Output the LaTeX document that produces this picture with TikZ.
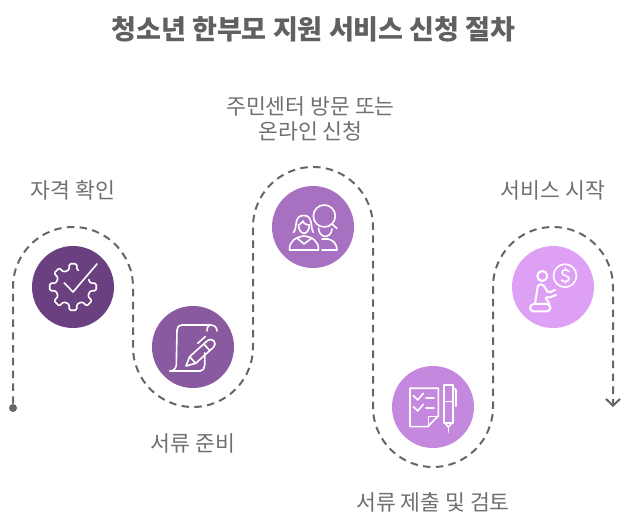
\documentclass[tikz,border=0pt]{standalone}
\usepackage{fontspec}
\setmainfont{Noto Sans CJK KR}
\usepackage{xcolor}
\usetikzlibrary{arrows.meta, positioning}
\definecolor{cInk}{RGB}{102,102,102}
\definecolor{cLabel}{RGB}{112,112,112}
\definecolor{cTitle}{RGB}{96,96,96}
\definecolor{cStepA}{RGB}{107,64,128}
\definecolor{cStepB}{RGB}{138,90,160}
\definecolor{cStepC}{RGB}{168,112,192}
\definecolor{cStepD}{RGB}{196,136,222}
\definecolor{cStepE}{RGB}{221,160,245}
\tikzset{
	stepdisc/.style={circle, minimum size=61.5pt, inner sep=0pt},
	steplabel/.style={font=\fontsize{16.2pt}{18.8pt}\selectfont, text=cLabel, align=center},
	headline/.style={font=\fontsize{20.3pt}{24pt}\selectfont\bfseries, text=cTitle},
	trail/.style={draw=cInk, line width=1.5pt, dash pattern=on 5.6pt off 4pt},
	% white line work inside the discs
	iconline/.style={draw=white, line width=1.2pt, line cap=round, line join=round},
}
\begin{document}
\begin{tikzpicture}[x=0.75pt, y=0.75pt]
	\useasboundingbox (0,0) rectangle (626,528);
	\node[headline] (title) at (313.5,498.5) {청소년 한부모 지원 서비스 신청 절차};
	\node[stepdisc, fill=cStepA] (gear) at (73,241) {};
	\node[stepdisc, fill=cStepB] (scroll) at (193,181) {};
	\node[stepdisc, fill=cStepC] (people) at (313,301) {};
	\node[stepdisc, fill=cStepD] (sheet) at (433,121) {};
	\node[stepdisc, fill=cStepE] (coin) at (553,241) {};
	\node[steplabel] (gearlab) at (73,338) {자격 확인};
	\node[steplabel] (scrolllab) at (193,85) {서류 준비};
	\node[steplabel] (peoplelab) at (310.5,409) {주민센터 방문 또는\\온라인 신청};
	\node[steplabel] (sheetlab) at (433,26) {서류 제출 및 검토};
	\node[steplabel] (coinlab) at (553,338) {서비스 시작};
	\node[circle, fill=cInk, minimum size=6pt, inner sep=0pt] (pstart) at (13,120) {};
	\coordinate (pend) at (613,121);
	% winding route
	\draw[trail, -{Straight Barb[length=5pt, width=10.5pt, line width=1.5pt]}] (pstart) -- (13,241)
		arc[start angle=180, end angle=0, radius=60] -- (133,181)
		arc[start angle=180, end angle=360, radius=60] -- (253,301)
		arc[start angle=180, end angle=0, radius=60] -- (373,121)
		arc[start angle=180, end angle=360, radius=60] -- (493,241)
		arc[start angle=180, end angle=0, radius=60] -- (pend);
	% gear and tick
	\begin{scope}[shift={(gear.center)}]
		\draw[iconline, rounded corners=1pt] (72:17.5)
			\foreach \a in {90,135,180,225,270,315,360} {
				-- (\a-13:17.5) -- (\a-9:23.5) -- (\a+9:23.5) -- (\a+13:17.5)
			} -- (385:17.5);
		\draw[iconline] (-8.7,4) -- (0,-5) -- (24,23);
	\end{scope}
	% paper and brush
	\begin{scope}[shift={(scroll.center)}]
		\draw[iconline] (24,16) .. controls (24,20) and (21,22) .. (17.3,22) -- (-11,22)
			.. controls (-14,22) and (-16,20) .. (-16,17) -- (-16.7,-18)
			.. controls (-17,-22) and (-20,-24) .. (-23.3,-24) -- (7.3,-24)
			.. controls (10,-24) and (11.7,-21) .. (11.7,-18) -- (11.7,-6);
		\draw[iconline] (17.3,22) .. controls (14,21) and (14,18) .. (14,16);
		\begin{scope}[shift={(-7,-19)}, rotate=42]
			\draw[iconline] (0,0) -- (9,4.5) -- (33,4.5) arc[start angle=90, end angle=-90, radius=4.5]
				-- (9,-4.5) -- cycle;
			\draw[iconline] (9,4.5) -- (9,-4.5) (28,4.5) -- (28,-4.5);
			\draw[iconline] (24,9) -- (34,9);
		\end{scope}
	\end{scope}
	% two people and magnifier
	\begin{scope}[shift={(people.center)}]
		\draw[iconline] (11.3,11) circle[radius=11];
		\draw[iconline] (19,3) -- (24,-1.5);
		\draw[iconline] (-19.7,-5.5) .. controls (-15,-2) and (-20,11.5) .. (-9.3,11.5)
			.. controls (1,11.5) and (-3,-2) .. (0.5,-5.5);
		\draw[iconline] (-14.5,2) .. controls (-14,-9) and (-4,-9) .. (-3.5,2)
			.. controls (-7,2) and (-10,4) .. (-10,6) .. controls (-11,4) and (-13,3) .. (-14.5,2);
		\draw[iconline] (-23.5,-23) .. controls (-24,-14) and (-17,-10) .. (-9,-9)
			.. controls (-1,-10) and (6,-14) .. (5.5,-23) -- cycle;
		\draw[iconline] (-16,-11) -- (-9,-17) -- (-1,-11);
		\draw[iconline] (5.5,-1) .. controls (6,-12) and (18,-12) .. (19,-2);
		\draw[iconline] (9,-12) -- (15,-12) .. controls (21,-13) and (24,-18) .. (24,-23) -- (9,-23);
	\end{scope}
	% checklist and pen
	\begin{scope}[shift={(sheet.center)}]
		\draw[iconline] (5.3,-9) -- (5.3,18.7) -- (-23,18.7) -- (-23,-19.7) -- (-5.3,-19.7) -- cycle;
		\draw[iconline] (5.3,-9.5) -- (-4.7,-9.5) -- (-4.7,-19);
		\draw[iconline] (-19.7,11.3) -- (-15.3,7) -- (-9.7,13.7);
		\draw[iconline] (-7,8.7) -- (1,8.7);
		\draw[iconline] (-19.7,0.3) -- (-15.3,-4) -- (-9.7,2.7);
		\draw[iconline] (-7,-1.3) -- (1,-1.3);
		\draw[iconline] (11,22) -- (19.7,22) -- (19.7,-16.3) -- (11,-16.3) -- cycle;
		\draw[iconline] (11,5.3) -- (19.7,5.3);
		\draw[iconline] (19.7,19.7) -- (23,17) -- (23,0.7);
		\draw[iconline] (12,-16.3) -- (15.3,-20) -- (18.7,-16.3);
		\draw[iconline] (15.3,-20) -- (15.3,-25);
	\end{scope}
	% person and coin
	\begin{scope}[shift={(coin.center)}]
		\draw[iconline] (12,11.3) circle[radius=11.5];
		\draw[iconline] (16,15.5) .. controls (14,18) and (9,17.5) .. (9,14.5)
			.. controls (9,10.5) and (16,12) .. (16,8) .. controls (16,5) and (10,4.5) .. (8.5,7);
		\draw[iconline] (12.3,19) -- (12.3,17.5) (12.3,5.5) -- (12.3,3.5);
		\draw[iconline, line width=1.5pt] (-10.7,11) circle[radius=5];
		\draw[iconline, line width=1.5pt, rounded corners=1.5pt] (-18,-17) -- (-15,2.7) -- (-10,2.7) -- (-4.7,-6)
			-- (2,-3) (3,-8) -- (-4.7,-11) -- (-8,-10) -- (-3.5,-17);
		\draw[iconline, line width=1.5pt, rounded corners=3pt] (-23,-24.5) rectangle (-2.5,-17);
	\end{scope}
\end{tikzpicture}
\end{document}
